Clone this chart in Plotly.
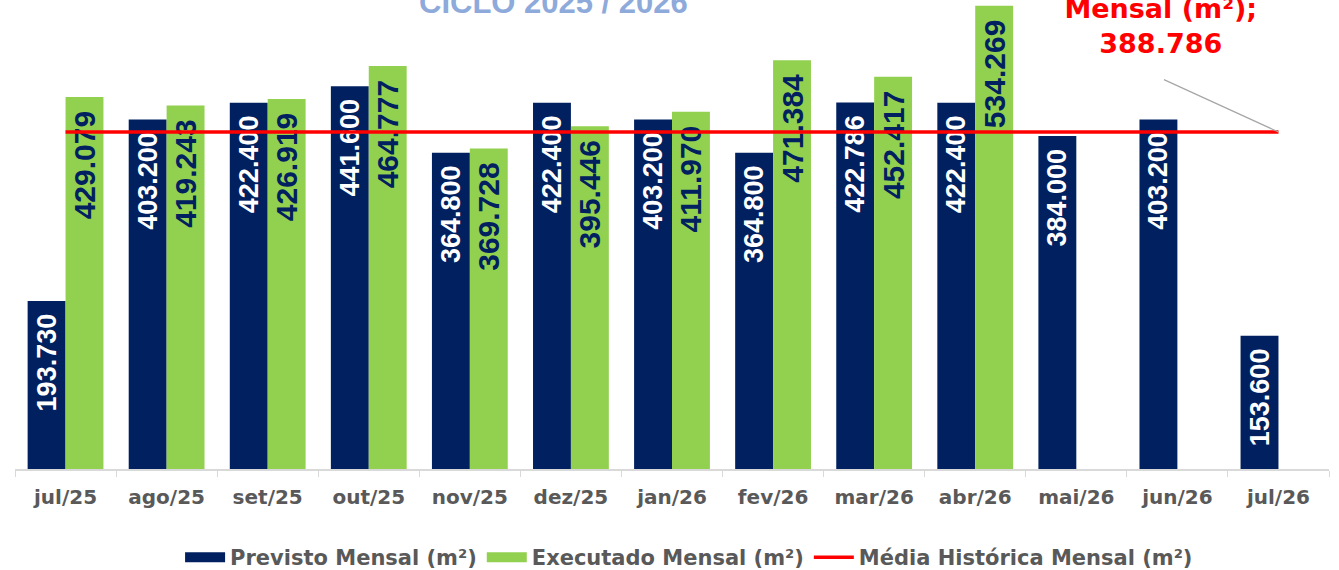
import plotly.graph_objects as go

meses = ["jul/25", "ago/25", "set/25", "out/25", "nov/25", "dez/25", "jan/26",
         "fev/26", "mar/26", "abr/26", "mai/26", "jun/26", "jul/26"]
previsto = [193.730, 403.200, 422.400, 441.600, 364.800, 422.400, 403.200,
            364.800, 422.786, 422.400, 384.000, 403.200, 153.600]
executado = [429.079, 419.243, 426.919, 464.777, 369.728, 395.446, 411.970,
             471.384, 452.417, 534.269, None, None, None]
media_historica = 388.786

NAVY = "#002060"
GREEN = "#92D050"
RED = "#FF0000"
GRAY = "#595959"
LABEL_FONT = "Liberation Sans, Arial, sans-serif"
TEXT_FONT = "DejaVu Sans, Verdana, sans-serif"

NAME_PREV = "Previsto Mensal (m²)"
NAME_EXEC = "Executado Mensal (m²)"
NAME_MEDIA = "Média Histórica Mensal (m²)"


def fmt(v):
    return "" if v is None else f"{v:.3f}\u00a0\u200a"


fig = go.Figure()

fig.add_trace(go.Bar(
    x=meses, y=previsto, name=NAME_PREV, showlegend=False,
    marker=dict(color=NAVY, line=dict(width=0)),
    text=[fmt(v) for v in previsto],
    textposition="inside", insidetextanchor="end", textangle=-90,
    constraintext="none",
    insidetextfont=dict(family=LABEL_FONT, size=27, color="white", weight="bold"),
    hoverinfo="x+y",
))

fig.add_trace(go.Bar(
    x=meses, y=executado, name=NAME_EXEC, showlegend=False,
    marker=dict(color=GREEN, line=dict(width=0)),
    text=[fmt(v) for v in executado],
    textposition="inside", insidetextanchor="end", textangle=-90,
    constraintext="none",
    insidetextfont=dict(family=LABEL_FONT, size=30, color=NAVY, weight="bold"),
    hoverinfo="x+y",
))

fig.add_trace(go.Scatter(
    x=meses, y=[media_historica] * len(meses), name=NAME_MEDIA, showlegend=False,
    mode="lines", line=dict(color=RED, width=3.5),
))

# legend entries: wide colour blocks like the original
for nome, cor, larg in [(NAME_PREV, NAVY, 13), (NAME_EXEC, GREEN, 13), (NAME_MEDIA, RED, 3.5)]:
    fig.add_trace(go.Scatter(x=[None], y=[None], name=nome, mode="lines",
                             line=dict(color=cor, width=larg), hoverinfo="skip"))

# title, cut off at the top edge like the original
fig.add_annotation(
    text="<b>CICLO 2025 / 2026</b>", xref="paper", yref="paper",
    x=0.41, y=1, xanchor="center", yanchor="middle", yshift=-2,
    showarrow=False, font=dict(family="Liberation Sans, Arial, sans-serif", size=31, color="#8EAADB"),
)

# leader line of the callout
fig.add_annotation(
    text="", x=meses[-1], y=media_historica, xref="x", yref="y",
    ax=-116, ay=-53, showarrow=True, arrowhead=0, arrowwidth=1.2,
    arrowcolor="#A6A6A6", standoff=0,
)
# callout text for the historical average
fig.add_annotation(
    text="<b>Média Histórica<br>Mensal (m²);<br>388.786</b>",
    x=meses[-1], y=media_historica, xref="x", yref="y",
    xshift=-117, yshift=123, xanchor="center", yanchor="middle",
    showarrow=False, font=dict(family=TEXT_FONT, size=27, color=RED),
)

fig.update_layout(
    width=1339, height=570,
    margin=dict(l=15, r=10, t=0, b=101, autoexpand=False),
    paper_bgcolor="white", plot_bgcolor="white",
    barmode="group", bargap=0.25, bargroupgap=0,
    showlegend=True,
    legend=dict(orientation="h", x=0.513, xanchor="center", y=-0.145, yanchor="top",
                font=dict(family=TEXT_FONT, size=21, color=GRAY, weight="bold"),
                itemwidth=40, tracegroupgap=0),
    xaxis=dict(
        showline=True, linecolor="#D9D9D9", linewidth=1.5,
        ticks="outside", tickson="boundaries", ticklen=6, tickcolor="#D9D9D9",
        ticklabelstandoff=9,
        tickfont=dict(family=TEXT_FONT, size=20, color=GRAY, weight="bold"),
        showgrid=False,
    ),
    yaxis=dict(range=[0, 541], visible=False, showgrid=False, zeroline=False),
)

# the page's default body margin would shift the chart by 8px
fig.write_html("out.html", config={"displayModeBar": False},
               post_script="document.body.style.margin = '0';")
